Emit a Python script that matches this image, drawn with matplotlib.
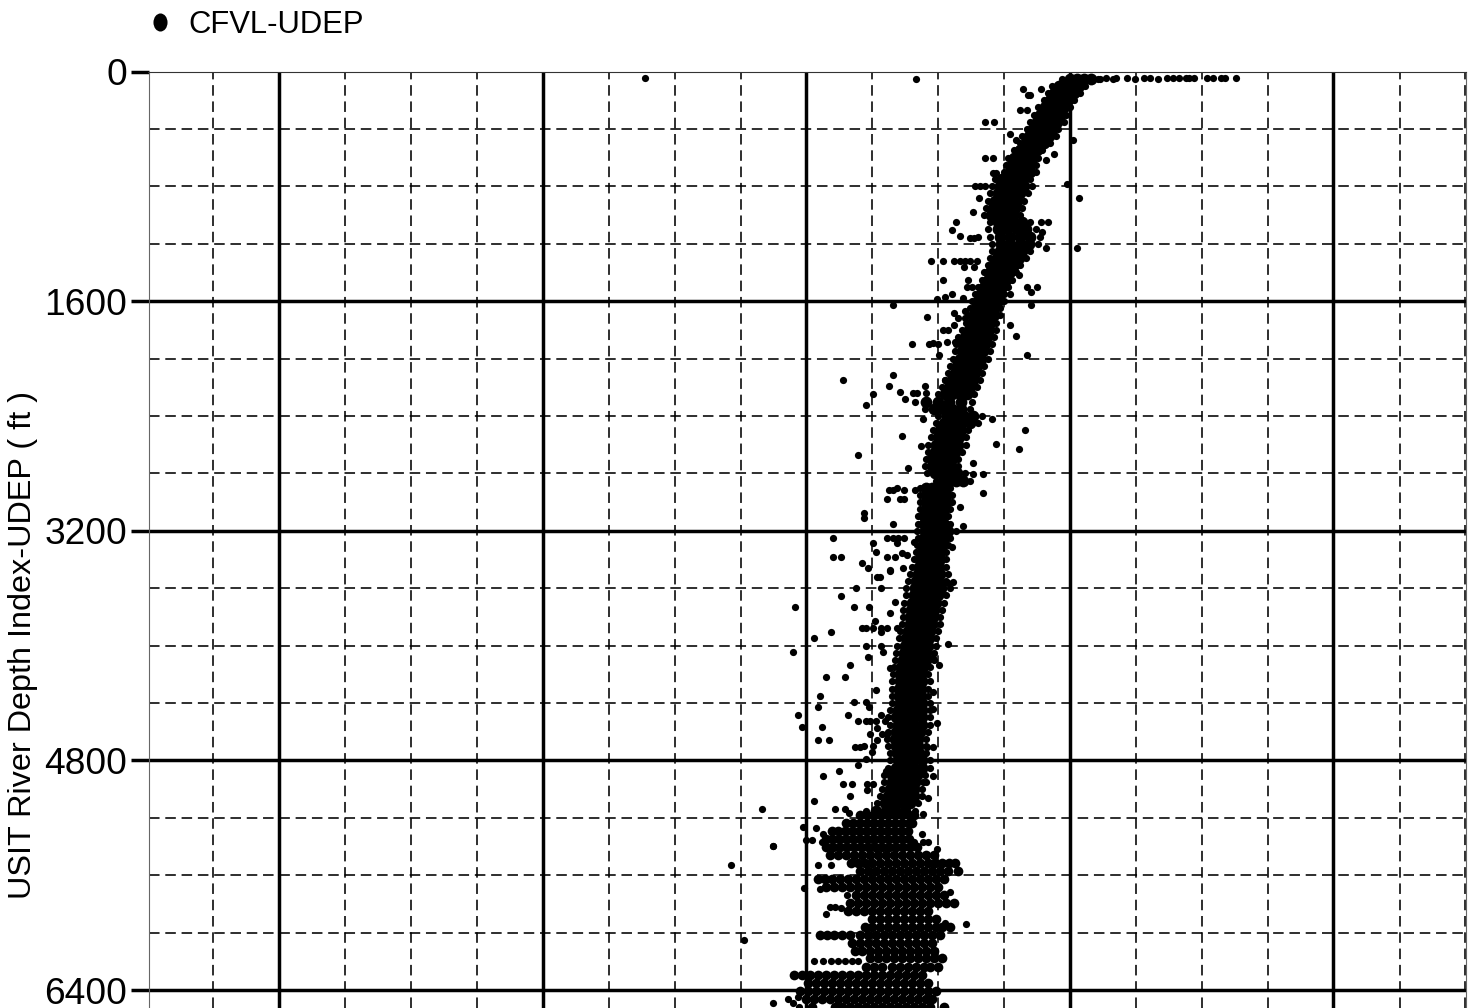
import matplotlib
matplotlib.use("Agg")
import matplotlib.pyplot as plt
from matplotlib.lines import Line2D
from matplotlib.path import Path
import numpy as np

plt.rcParams['font.family'] = ['Liberation Sans', 'DejaVu Sans']

SERIES = "CFVL-UDEP"
Y_LABEL = "USIT River Depth Index-UDEP ( ft )"
y_major = [0, 1600, 3200, 4800, 6400]
y_minor = [400, 800, 1200, 2000, 2400, 2800, 3600, 4000, 4400, 5200, 5600, 6000]
x_major = [279, 542.5, 806, 1069.5, 1333]
x_minor = [213, 345, 411, 477, 608.5, 674.5, 740.5, 872, 938, 1003.5, 1135.5, 1201.5, 1267.5, 1399.5, 1465]

band_depth = [50,100,150,200,250,300,350,400,450,500,550,600,650,700,750,800,850,900,950,1000,
 1050,1100,1150,1200,1250,1300,1350,1400,1450,1500,1550,1600,1650,1700,1750,1800,1850,1900,1950,2000,
 2050,2100,2150,2200,2250,2300,2350,2400,2450,2500,2550,2600,2650,2700,2750,2800,2850,2900,2950,3000,
 3050,3100,3150,3200,3250,3300,3350,3400,3450,3500,3550,3600,3650,3700,3750,3800,3850,3900,3950,4000,
 4050,4100,4150,4200,4250,4300,4350,4400,4450,4500,4550,4600,4650,4700,4750,4800,4850,4900,4950,5000,
 5050,5100,5150]
band_x1 = [1062,1052,1048,1044,1038,1034,1030,1027,1022,1020,1014,1008,1006,1004,995,992,990,988,986,984,
 990,988,990,992,992,990,988,984,982,978,975,972,970,968,966,962,958,956,955,953,
 950,948,945,942,938,915,925,938,936,933,931,928,928,926,925,927,936,920,920,920,
 920,918,918,917,918,917,916,914,912,910,908,906,906,904,903,903,902,900,899,897,
 896,895,894,893,892,892,892,892,890,888,890,888,887,888,890,890,888,884,884,882,
 880,877,866]
band_x2 = [1070,1059,1054,1050,1045,1040,1037,1033,1029,1026,1020,1014,1012,1010,1002,1000,998,995,993,991,
 998,998,1000,1001,1000,997,994,990,988,984,981,978,976,974,972,969,965,963,962,960,
 957,955,952,949,945,926,934,947,944,940,938,936,935,932,932,935,943,926,926,926,
 926,924,924,925,924,923,922,920,919,918,916,915,914,912,911,910,910,908,906,905,
 904,903,901,900,900,899,899,900,898,896,898,896,895,896,897,898,896,892,892,890,
 888,885,876]
band_x3 = [1077,1066,1060,1056,1051,1047,1044,1039,1036,1032,1025,1020,1018,1017,1009,1008,1005,1002,1000,998,
 1006,1007,1010,1010,1007,1004,1001,997,994,990,987,985,982,981,978,976,972,970,969,967,
 964,962,959,956,952,938,943,956,953,947,945,943,942,939,938,942,950,932,933,933,
 932,930,931,933,931,929,928,927,926,925,923,924,922,920,918,918,917,915,914,913,
 911,911,908,907,907,906,906,907,906,905,906,904,902,903,904,906,905,900,899,898,
 896,893,886]
band_x4 = [1084,1072,1067,1062,1057,1053,1050,1046,1042,1038,1031,1026,1024,1023,1016,1016,1013,1010,1008,1006,
 1014,1017,1020,1020,1015,1012,1007,1003,1000,996,992,991,988,987,984,982,980,978,976,974,
 970,968,966,963,960,949,952,964,961,954,952,951,948,945,945,950,956,938,939,939,
 938,936,937,940,937,936,934,933,932,933,931,932,930,928,927,925,925,923,921,920,
 919,918,916,914,915,914,914,915,914,913,914,912,911,911,912,914,913,909,907,906,
 906,902,895]
band_x5 = [1091,1079,1074,1068,1064,1060,1057,1052,1049,1044,1037,1032,1030,1030,1023,1024,1020,1017,1015,1013,
 1022,1026,1030,1029,1022,1019,1014,1010,1006,1002,998,998,994,994,990,989,987,985,983,981,
 977,975,973,970,967,961,961,973,970,961,959,958,955,952,951,957,963,944,946,946,
 944,942,944,948,944,942,940,940,939,940,938,941,938,936,934,933,932,930,929,928,
 926,926,923,921,922,921,921,922,922,922,922,920,918,918,919,922,922,917,915,914,
 914,910,905]
band_x6 = [1098,1085,1080,1074,1070,1066,1064,1058,1056,1050,1042,1038,1036,1036,1030,1032,1028,1024,1022,1020,
 1030,1036,1040,1038,1030,1026,1020,1016,1012,1008,1004,1004,1000,1000,996,996,994,992,990,988,
 984,982,980,977,974,972,970,982,978,968,966,966,962,958,958,965,970,950,952,952,
 950,948,950,956,950,948,946,946,946,948,946,950,946,944,942,940,940,938,936,936,
 934,934,930,928,930,928,928,930,930,930,930,928,926,926,926,930,930,925,923,922,
 922,918,915]

stripe_5180 = [860,867,874,881,888,895,902,909,914]
stripe_5235 = [846,853,860,867,874,881,888,895,902,909,912]
stripe_5290 = [832,838,845,852,859,866,873,880,887,894,901,908]
stripe_5345 = [826,832,839,846,853,860,867,874,881,888,895,902,909]
stripe_5400 = [826,833,840,847,854,861,868,875,882,889,896,903,910,917]
stripe_5460 = [830,838,846,854,862,870,878,886,894,902,910,918,926,934]
stripe_5515 = [851,858,865,872,880,888,896,904,912,920,928,935,942,949,955]
stripe_5570 = [860,868,876,884,892,900,908,916,924,932,940,948,958]
stripe_5625 = [818,825,832,840,848,856,864,872,880,888,896,904,912,920,928,936,944]
stripe_5680 = [826,834,842,850,858,866,874,882,890,898,906,914,922,930,938]
stripe_5735 = [856,864,872,880,888,896,904,912,920,928,936,944]
stripe_5790 = [850,858,866,874,882,890,898,906,914,922,930,938,946,954]
stripe_5850 = [848,856,864,872,880,888,896,904,912,920,928]
stripe_5905 = [872,880,888,896,904,912,920,928,936]
stripe_5960 = [865,872,880,888,896,904,912,920,928,936,942,950]
stripe_6015 = [820,827,834,842,850,860,868,876,884,892,900,908,916,924,932,940]
stripe_6070 = [852,860,868,876,884,892,900,908,916,924,932]
stripe_6125 = [855,862,870,878,886,894,902,910,918,926,934]
stripe_6180 = [870,878,886,894,902,910,918,926,934,942]
stripe_6240 = [866,874,882,892,900,908,916,924,930,938]
stripe_6295 = [794,802,810,818,826,834,842,850,858,866,874,882,890,898,906,914,922]
stripe_6350 = [808,816,824,832,840,848,856,864,872,880,888,896,904,912,920,928]
stripe_6405 = [800,808,816,824,832,840,848,856,864,872,880,888,896,904,912,920,928,936]
stripe_6460 = [806,814,822,830,838,846,854,862,870,878,886,894,902,910,918,926,932]
stripe_6515 = [812,835,842,850,858,866,874,882,890,898,906,914,922,930,944]
stripes = [(5180, stripe_5180), (5235, stripe_5235), (5290, stripe_5290), (5345, stripe_5345),
           (5400, stripe_5400), (5460, stripe_5460), (5515, stripe_5515), (5570, stripe_5570),
           (5625, stripe_5625), (5680, stripe_5680), (5735, stripe_5735), (5790, stripe_5790),
           (5850, stripe_5850), (5905, stripe_5905), (5960, stripe_5960), (6015, stripe_6015),
           (6070, stripe_6070), (6125, stripe_6125), (6180, stripe_6180), (6240, stripe_6240),
           (6295, stripe_6295), (6350, stripe_6350), (6405, stripe_6405), (6460, stripe_6460),
           (6515, stripe_6515)]

out_x = [645,916,1090,1100,1106,1113,1116,1127,1135,1144,1150,1158,1167,1173,1179,1186,1189,1194,1207,1213,1221,1225,1236,
 1023,1028,1030,1041,1020,1027,985,994,1010,1016,1073,1054,1046,985,993,993,996,975,980,985,1067,1079,979,973,956,952,960,970,974,978,
 1041,1048,1042,1046,1077,931,943,954,960,965,970,977,964,974,943,968,967,972,1027,1037,1031,1019,1010,952,945,937,963,893,1031,927,954,958,965,965,
 1010,1016,954,943,948,967,912,929,933,938,947,955,958,939,1027,
 893,843,889,873,900,925,945,866,905,913,917,926,923,992,902,1025,996,1019,921,858,908,973,983,973,983,960,963,889,893,897,904,915,887,900,904,864,864,893,
 833,887,893,898,904,873,897,914,876,833,841,887,895,902,907,862,868,890,903,
 890,877,880,856,881,841,854,869,895,890,795,875,862,866,873,881,887,897,831,814,881,866,881,883,793,868,948,850,826,845,890,876,820,818,854,866,869,798,848,881,
 858,866,870,876,885,802,822,877,870,882,887,818,829,877,855,860,864,873,872,927,933,866,858,839,823,886,933,952,953,948,939,933,933,933,937,
 843,852,867,873,867,850,814,762,835,845,849,926,928,923,803,816,823,822,773,812,806,922,914,923,928,937,818,831,773,804,820,950,847,826,830,835,841,966,945,
 814,823,831,838,845,852,858,773,788,793,798,799,943,731,744]
out_depth = [42,49,42,49,42,49,42,42,49,42,42,49,42,42,42,42,42,42,42,42,42,42,42,
 125,167,167,125,265,265,355,355,432,474,474,572,620,606,606,704,704,795,795,795,781,878,878,976,1052,1101,1143,1157,1157,1150,
 1052,1052,1115,1227,1227,1317,1317,1317,1317,1317,1317,1317,1359,1359,1450,1450,1499,1499,1499,1499,1533,1415,1547,1547,1568,1582,1575,1624,1624,1708,1680,1715,1715,1666,
 1763,1840,1763,1798,1798,1798,1896,1896,1889,1896,1882,1882,1882,1972,1972,
 2112,2147,2189,2244,2230,2189,2147,2321,2279,2237,2237,2237,2419,2419,2537,2495,2593,2628,2607,2669,2760,2725,2802,2802,2934,3032,3164,2913,2913,2899,2913,2913,2976,2976,2976,3074,3109,3150,
 3248,3248,3248,3248,3248,3283,3283,3276,3346,3380,3380,3380,3380,3352,3366,3422,3457,3471,3457,
 3478,3520,3520,3596,3596,3652,3729,3729,3694,3771,3729,3826,3875,3875,3875,3875,3875,3875,3903,3945,3903,4001,4001,4043,4043,4077,3987,4133,4217,4217,4154,4307,4349,4426,4391,4391,4426,4482,4482,4482,
 4523,4523,4523,4523,4523,4565,4565,4572,4614,4614,4614,4656,4656,4656,4705,4705,4698,4698,4740,4705,4705,4788,4830,4872,4907,4872,4907,3311,3555,3562,4133,4084,4321,4440,4537,
 4963,4963,4963,4963,5004,5046,5081,5137,5137,5137,5165,4949,5060,5172,5262,5269,5311,5367,5395,5353,5353,5311,5367,5367,5367,5416,5527,5527,5395,5688,5694,5715,5736,5869,5820,5820,5827,5938,5931,
 6196,6196,6196,6196,6196,6196,6196,6489,6461,6489,6447,6517,6517,5527,6050]

fig = plt.figure(figsize=(14.69, 10.08), dpi=100, facecolor='white')
ax = fig.add_axes([148.5 / 1469, 0, 1317 / 1469, (1008 - 71.5) / 1008])
ax.set_xlim(148.5, 1465.5)
ax.set_ylim(6525, 0)

ax.set_xticks(x_major)
ax.set_xticks(x_minor, minor=True)
ax.set_yticks(y_major)
ax.set_yticks(y_minor, minor=True)
ax.set_yticklabels([str(v) for v in y_major], fontsize=26.7)
ax.set_xticklabels([])
ax.tick_params(axis='x', which='both', length=0)
ax.tick_params(axis='y', which='minor', length=0)
ax.tick_params(axis='y', which='major', length=13, width=2.5, pad=2.5, color='black')
ax.set_axisbelow(True)
ax.grid(which='major', color='black', lw=2.5, ls='-')
ax.grid(which='minor', color='black', lw=1.15, ls=(0, (6.6, 3.6)))
ax.yaxis.get_major_ticks()[0].gridline.set_visible(False)
for name, s in ax.spines.items():
    s.set_linewidth(0.8)
    s.set_color('#333333' if name == 'top' else '#666666')
ax.spines['bottom'].set_visible(False)

fig.text(23 / 1469, 1 - 645 / 1008, Y_LABEL, rotation=90, fontsize=23.3, ha='center', va='center')

dot = dict(color='black', marker='o', ms=5.2, mew=0, ls='none', zorder=3)
for col in (band_x1, band_x6):
    ax.plot(col, band_depth, **dot)
for col in (band_x2, band_x3, band_x4, band_x5):
    ax.plot(col, band_depth, **{**dot, 'ms': 8.5})
for depth, xs in stripes:
    ax.plot(xs, [depth] * len(xs), **{**dot, 'ms': 7.0})
n = min(len(out_x), len(out_depth))
ax.plot(out_x[:n], out_depth[:n], **dot)

circle = Path.unit_circle()
ell = Path(circle.vertices * np.array([0.78, 1.0]), circle.codes)
handle = Line2D([], [], color='black', marker=ell, ms=13, mew=0, ls='none')
fig.legend([handle], [SERIES], loc='center left', bbox_to_anchor=(146 / 1469, 1 - 25 / 1008),
           frameon=False, fontsize=22.3, handlelength=0.9, handletextpad=0.47, borderpad=0, borderaxespad=0)

fig.savefig('out.png', dpi=100)
